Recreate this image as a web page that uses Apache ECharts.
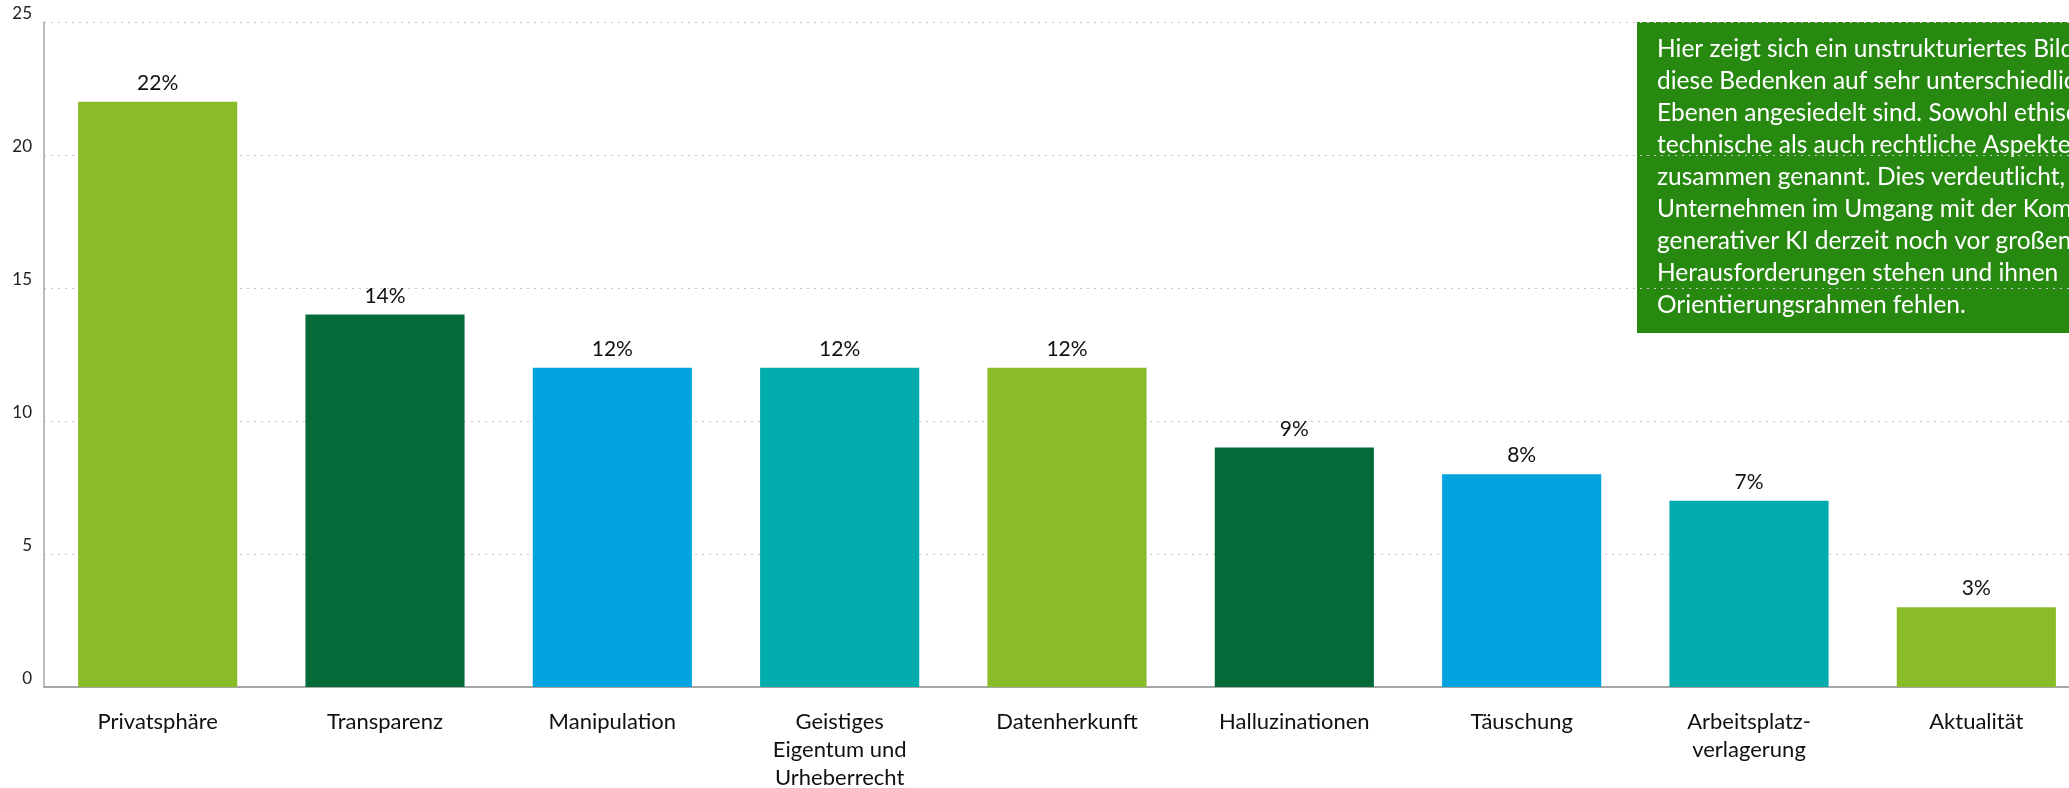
<!DOCTYPE html>
<html>
<head>
<meta charset="utf-8">
<script src="https://cdn.jsdelivr.net/npm/echarts@6/dist/echarts.min.js"></script>
<style>
html,body{margin:0;padding:0;background:#fff;overflow:hidden;}
#chart{width:2069px;height:788px;}
</style>
</head>
<body>
<div id="chart"></div>
<script>
const categories = ['Privatsphäre', 'Transparenz', 'Manipulation', 'Geistiges\nEigentum und\nUrheberrecht', 'Datenherkunft', 'Halluzinationen', 'Täuschung', 'Arbeitsplatz-\nverlagerung', 'Aktualität'];
const values = [22, 14, 12, 12, 12, 9, 8, 7, 3];
const barColors = ['#89BC28', '#046B38', '#03A3E0', '#00ACAC', '#89BC28', '#046B38', '#03A3E0', '#00ACAC', '#89BC28'];
const yTicks = { min: 0, max: 25, interval: 5 };
const noteText = 'Hier zeigt sich ein unstrukturiertes Bild, da\ndiese Bedenken auf sehr unterschiedlichen\nEbenen angesiedelt sind. Sowohl ethische,\ntechnische als auch rechtliche Aspekte werden\nzusammen genannt. Dies verdeutlicht, dass\nUnternehmen im Umgang mit der Kommunikation\ngenerativer KI derzeit noch vor großen\nHerausforderungen stehen und ihnen\nOrientierungsrahmen fehlen.';

const FONT = 'Lato, "Open Sans", sans-serif';
const chart = echarts.init(document.getElementById('chart'), null, { renderer: 'canvas' });
chart.setOption({
  animation: false,
  backgroundColor: '#ffffff',
  grid: { left: 44, top: 22, width: 2046, height: 665, containLabel: false, outerBoundsMode: 'none' },
  xAxis: {
    type: 'category',
    data: categories,
    axisTick: { show: false },
    axisLine: { show: true, lineStyle: { color: '#a6a6a6', width: 2 } },
    axisLabel: { interval: 0, fontFamily: FONT, fontSize: 22, lineHeight: 28, color: '#111', margin: 21 }
  },
  yAxis: {
    type: 'value',
    min: yTicks.min, max: yTicks.max, interval: yTicks.interval,
    axisLine: { show: true, lineStyle: { color: '#a6a6a6', width: 1.5 } },
    axisTick: { show: false },
    splitLine: { show: true, lineStyle: { color: '#c8c8c8', type: [2, 5], width: 1 } },
    axisLabel: { fontFamily: FONT, fontSize: 17, color: '#222', margin: 12, verticalAlign: 'bottom' }
  },
  series: [{
    type: 'bar',
    barWidth: '70%',
    data: values.map((v, i) => ({ value: v, itemStyle: { color: barColors[i] } })),
    label: { show: true, position: 'top', distance: 8, formatter: '{c}%', fontFamily: FONT, fontSize: 21, color: '#111' }
  }],
  graphic: [{
    type: 'group', left: 1637, top: 22, z: 100,
    children: [
      { type: 'rect', shape: { x: 0, y: 0, width: 460, height: 311 }, style: { fill: '#288910' } },
      { type: 'text', x: 20, y: 11, style: { text: noteText, fill: '#ffffff', font: '24.5px ' + FONT, lineHeight: 32, verticalAlign: 'top' } }
    ]
  }]
});
</script>
</body>
</html>
